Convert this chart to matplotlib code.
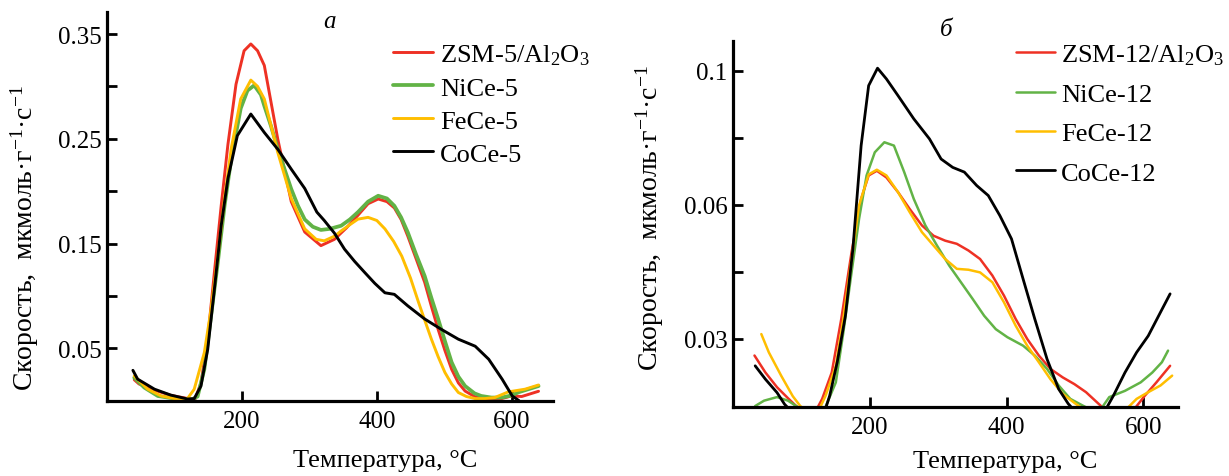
import numpy as np
import matplotlib
matplotlib.use('Agg')
import matplotlib.pyplot as plt

# ---------------- data: panel a ----------------
T_zsm5 = [40, 47, 70, 95, 120, 130, 139, 149, 159, 169, 179, 191, 203, 213, 223, 233, 253, 273, 293, 317,
          337, 355, 372, 387, 402, 415, 426, 436, 446, 458, 471, 481, 491, 501, 511, 521, 531, 545, 560, 585,
          600, 615, 640]
v_zsm5 = [0.020, 0.016, 0.010, 0.005, 0.002, 0.001, 0.017, 0.059, 0.123, 0.186, 0.2445, 0.302, 0.334, 0.3405,
          0.334, 0.320, 0.2497, 0.190, 0.161, 0.148, 0.154, 0.165, 0.177, 0.188, 0.1925, 0.190, 0.184, 0.173,
          0.157, 0.136, 0.113, 0.090, 0.068, 0.048, 0.030, 0.017, 0.0092, 0.004, 0.002, 0.002, 0.0045, 0.004, 0.009]

T_nice5 = [40, 55, 75, 100, 125, 134, 144, 154, 164, 174, 184, 198, 208, 218, 228, 233, 243, 253, 263, 273,
           283, 293, 305, 317, 330, 347, 360, 372, 387, 402, 415, 426, 436, 446, 458, 471, 481, 491, 501, 511,
           521, 531, 545, 555, 570, 585, 600, 610, 625, 640]
v_nice5 = [0.022, 0.0125, 0.0045, 0.002, 0.001, 0.004, 0.030, 0.081, 0.132, 0.186, 0.231, 0.279, 0.296, 0.301,
           0.292, 0.2815, 0.262, 0.240, 0.221, 0.202, 0.186, 0.173, 0.166, 0.163, 0.164, 0.167, 0.173, 0.180,
           0.190, 0.1956, 0.193, 0.186, 0.175, 0.1606, 0.140, 0.119, 0.098, 0.078, 0.057, 0.0367, 0.023, 0.014,
           0.007, 0.0045, 0.003, 0.003, 0.005, 0.008, 0.011, 0.014]

T_fece5 = [40, 60, 80, 100, 119, 129, 144, 154, 164, 174, 184, 198, 213, 223, 233, 253, 273, 293, 310, 322,
           337, 347, 360, 372, 387, 400, 412, 425, 437, 450, 462, 471, 481, 491, 501, 511, 521, 533, 546, 560,
           575, 595, 620, 640]
v_fece5 = [0.0236, 0.011, 0.0045, 0.002, 0.002, 0.011, 0.046, 0.0873, 0.138, 0.193, 0.241, 0.288, 0.306, 0.300,
           0.288, 0.237, 0.193, 0.164, 0.154, 0.1526, 0.157, 0.162, 0.168, 0.1733, 0.175, 0.172, 0.164, 0.152,
           0.138, 0.117, 0.0937, 0.077, 0.0587, 0.042, 0.027, 0.016, 0.0078, 0.004, 0.002, 0.002, 0.003, 0.0084,
           0.011, 0.015]

T_coce5 = [38, 45, 70, 94, 119, 129, 139, 149, 159, 169, 179, 193, 213, 233, 253, 273, 293, 311, 322, 337,
           352, 367, 382, 397, 412, 426, 446, 471, 496, 521, 546, 566, 586, 601, 611]
v_coce5 = [0.029, 0.0206, 0.011, 0.0054, 0.0016, 0.002, 0.014, 0.049, 0.107, 0.167, 0.212, 0.253, 0.2736, 0.256,
           0.240, 0.221, 0.2026, 0.180, 0.172, 0.160, 0.1447, 0.133, 0.1224, 0.112, 0.103, 0.1015, 0.0905, 0.078,
           0.068, 0.0587, 0.052, 0.0396, 0.0205, 0.0045, 0.0]

# ---------------- data: panel б ----------------
T_zsm12 = [31, 47, 64, 81, 92, 110, 121, 130, 144, 158, 173, 187, 198, 210, 224, 241, 258, 276, 293, 310, 327,
           344, 361, 379, 396, 413, 430, 447, 464, 482, 499, 516, 533, 545, 570, 585, 602, 619, 639]
v_zsm12 = [0.0263, 0.0225, 0.0192, 0.0166, 0.015, 0.013, 0.014, 0.0166, 0.0225, 0.0345, 0.0494, 0.0618, 0.0688,
           0.0702, 0.0682, 0.0638, 0.0591, 0.0554, 0.0531, 0.052, 0.0513, 0.0498, 0.0479, 0.0442, 0.0397, 0.0345,
           0.030, 0.0263, 0.0233, 0.0214, 0.0199, 0.0181, 0.0157, 0.014, 0.013, 0.014, 0.0173, 0.0203, 0.024]

T_nice12 = [32, 45, 64, 80, 92, 110, 130, 150, 161, 173, 184, 195, 207, 221, 235, 250, 264, 281, 298, 316, 333,
            350, 367, 384, 401, 424, 441, 459, 476, 493, 510, 525, 540, 550, 573, 596, 613, 627, 636]
v_nice12 = [0.0150, 0.0162, 0.017, 0.0162, 0.015, 0.013, 0.013, 0.0203, 0.0315, 0.0449, 0.0569, 0.0688, 0.0757,
            0.0787, 0.0777, 0.0698, 0.0618, 0.0554, 0.0509, 0.0464, 0.0427, 0.039, 0.0352, 0.0322, 0.0304, 0.0285,
            0.0263, 0.0233, 0.0196, 0.0166, 0.0152, 0.014, 0.0148, 0.017, 0.0184, 0.0203, 0.0225, 0.0248, 0.0274]

T_fece12 = [41, 52, 70, 87, 98, 115, 125, 135, 150, 161, 173, 184, 198, 210, 224, 241, 258, 276, 293, 310, 327,
            344, 361, 379, 396, 413, 430, 447, 464, 482, 499, 515, 540, 573, 590, 607, 625, 642]
v_fece12 = [0.0311, 0.027, 0.0218, 0.0172, 0.015, 0.013, 0.014, 0.0173, 0.024, 0.0345, 0.0479, 0.0599, 0.0691,
            0.0705, 0.0688, 0.0638, 0.0584, 0.0539, 0.0509, 0.0479, 0.0457, 0.0455, 0.0449, 0.0427, 0.0382, 0.033,
            0.0285, 0.0248, 0.021, 0.0177, 0.0157, 0.014, 0.013, 0.014, 0.0166, 0.0181, 0.0196, 0.0218]

T_coce12 = [32, 47, 64, 75, 90, 110, 132, 141, 152, 164, 175, 187, 198, 211, 224, 241, 264, 287, 304, 321, 338,
            356, 373, 390, 407, 424, 441, 459, 476, 490, 505, 530, 544, 556, 573, 590, 607, 625, 639]
v_coce12 = [0.024, 0.021, 0.018, 0.0154, 0.013, 0.012, 0.013, 0.0173, 0.0248, 0.0352, 0.0502, 0.0777, 0.0956,
            0.1008, 0.0976, 0.0926, 0.0857, 0.0797, 0.0737, 0.0712, 0.0698, 0.0658, 0.0628, 0.0576, 0.0524, 0.0434,
            0.0345, 0.0255, 0.0188, 0.0155, 0.013, 0.012, 0.014, 0.0173, 0.0225, 0.027, 0.0307, 0.036, 0.0401]

labels_a = ['ZSM-5/Al$_2$O$_3$', 'NiCe-5', 'FeCe-5', 'CoCe-5']
labels_b = ['ZSM-12/Al$_2$O$_3$', 'NiCe-12', 'FeCe-12', 'CoCe-12']
colors = ['#EE3124', '#62B346', '#FFBE00', '#000000']

xticks = [200, 400, 600]
yticks_a = [0.05, 0.10, 0.15, 0.20, 0.25, 0.30, 0.35]
yticklabels_a = ['0.05', '', '0.15', '', '0.25', '', '0.35']
yticks_b = [0.03, 0.045, 0.06, 0.08, 0.1]
yticklabels_b = ['0.03', '', '0.06', '', '0.1']

xlabel = 'Температура, °С'
ylabel = 'Скорость,  мкмоль·г$^{-1}$·с$^{-1}$'

# ---------------- style ----------------
plt.rcParams['font.family'] = ['Liberation Serif', 'DejaVu Serif']
plt.rcParams['mathtext.fontset'] = 'custom'
plt.rcParams['mathtext.rm'] = 'Liberation Serif'
plt.rcParams['mathtext.it'] = 'Liberation Serif:italic'
plt.rcParams['mathtext.bf'] = 'Liberation Serif:bold'

W, H = 1229, 477
fig = plt.figure(figsize=(W / 100, H / 100), dpi=100)


def px_axes(l, t, r, b):
    return [l / W, 1 - b / H, (r - l) / W, (b - t) / H]


axA = fig.add_axes(px_axes(107.3, 13, 552.7, 401.7))
axB = fig.add_axes(px_axes(733.3, 41.7, 1178.3, 407.7))

FS = 18
FS_LEG = 19
FS_XL = 19
FS_YL = 20


# piecewise scale for panel б (as printed: 0.03, 0.06, 0.1 equally spaced)
def fwd(v):
    v = np.asarray(v, dtype=float)
    return np.where(v <= 0.06, (v - 0.03) / 0.03, 1 + (v - 0.06) / 0.04)


def inv(u):
    u = np.asarray(u, dtype=float)
    return np.where(u <= 1, 0.03 + 0.03 * u, 0.06 + 0.04 * (u - 1))


axB.set_yscale('function', functions=(fwd, inv))

series_a = [(T_zsm5, v_zsm5), (T_nice5, v_nice5), (T_fece5, v_fece5), (T_coce5, v_coce5)]
series_b = [(T_zsm12, v_zsm12), (T_nice12, v_nice12), (T_fece12, v_fece12), (T_coce12, v_coce12)]
lw_a = [2.1, 2.7, 2.1, 2.1]
lw_b = [1.8, 1.8, 1.8, 2.0]

hA = []
for (t, v), c, lab, lw in zip(series_a, colors, labels_a, lw_a):
    hA.append(axA.plot(t, v, color=c, lw=lw, label=lab, solid_capstyle='round')[0])
hB = []
for (t, v), c, lab, lw in zip(series_b, colors, labels_b, lw_b):
    hB.append(axB.plot(t, v, color=c, lw=lw, label=lab, solid_capstyle='round')[0])

axA.set_xlim(0, 661)
axA.set_ylim(0, 0.371)
axB.set_xlim(0, 651)
axB.set_ylim(0.01485, 0.109)

for ax in (axA, axB):
    for s in ('top', 'right'):
        ax.spines[s].set_visible(False)
    for s in ('left', 'bottom'):
        ax.spines[s].set_linewidth(2.3)
    ax.set_xticks(xticks)
    ax.set_xticklabels([str(x) for x in xticks])
    ax.tick_params(axis='both', direction='in', length=7, width=2.0, labelsize=FS)
    ax.tick_params(axis='x', pad=7)
    ax.tick_params(axis='y', pad=4)
    ax.minorticks_off()

axA.set_yticks(yticks_a)
axA.set_yticklabels(yticklabels_a)
axB.set_yticks(yticks_b)
axB.set_yticklabels(yticklabels_b)
axB.minorticks_off()

# axis titles
fig.text(385 / W, 1 - 461 / H, xlabel, ha='center', va='center', fontsize=FS_XL)
fig.text(1005 / W, 1 - 462 / H, xlabel, ha='center', va='center', fontsize=FS_XL)
fig.text(25 / W, 1 - 238 / H, ylabel, ha='center', va='center', rotation=90, fontsize=FS_YL)
fig.text(650 / W, 1 - 218 / H, ylabel, ha='center', va='center', rotation=90, fontsize=FS_YL)

# panel letters
fig.text(330 / W, 1 - 22 / H, 'а', ha='center', va='center', fontsize=FS, style='italic')
fig.text(946 / W, 1 - 30 / H, 'б', ha='center', va='center', fontsize=FS, style='italic')

# legends
legA = axA.legend(handles=hA, loc='upper left', bbox_to_anchor=(392.7 / W, 1 - 43 / H),
                  bbox_transform=fig.transFigure, frameon=False, fontsize=FS_LEG, borderpad=0,
                  borderaxespad=0, handlelength=1.52, handletextpad=0.28, labelspacing=0.36)
legB = axB.legend(handles=hB, loc='upper left', bbox_to_anchor=(1016 / W, 1 - 43 / H),
                  bbox_transform=fig.transFigure, frameon=False, fontsize=FS_LEG, borderpad=0,
                  borderaxespad=0, handlelength=1.48, handletextpad=0.23, labelspacing=0.6)

fig.savefig('out.png', dpi=100)
